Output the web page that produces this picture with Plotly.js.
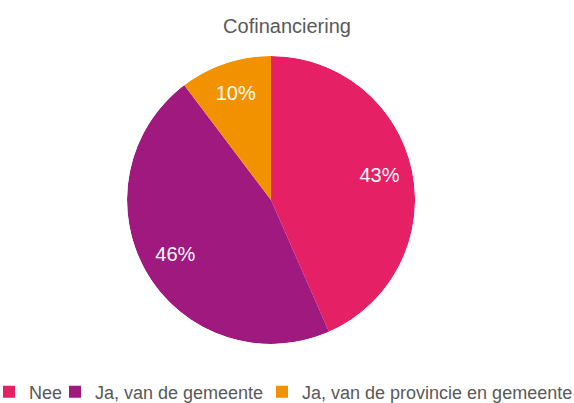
<!DOCTYPE html>
<html>
<head>
<meta charset="utf-8">
<script src="https://cdn.plot.ly/plotly-3.0.1.min.js"></script>
<style>html,body{margin:0;padding:0;background:#fff;}#chart{width:574px;height:403px;}</style>
</head>
<body>
<div id="chart"></div>
<script>
const categories = ["Nee", "Ja, van de gemeente", "Ja, van de provincie en gemeente"];
const values = [43.4, 46.3, 10.3];
const colors = ["#E62065", "#A0197E", "#F39200"];
const legendIds = ["legend", "legend2", "legend3"];

const FONT = "Arial, 'Liberation Sans', sans-serif";
const total = values.reduce((a, b) => a + b, 0);
const thetas = [], widths = [], pcts = [];
let cum = 0;
values.forEach(v => {
  thetas.push((cum + v / 2) / total * 360);
  widths.push(v / total * 360);
  pcts.push(Math.round(v / total * 100) + "%");
  cum += v;
});

const data = categories.map((c, i) => ({
  type: "barpolar",
  name: c,
  r: [1],
  theta: [thetas[i]],
  width: [widths[i]],
  base: [0],
  marker: {color: colors[i], line: {width: 0}},
  legend: legendIds[i],
  hoverinfo: "name"
}));

data.push({
  type: "scatterpolar",
  mode: "text",
  r: values.map(() => 0.77),
  theta: thetas,
  text: pcts,
  textposition: "middle center",
  textfont: {family: FONT, size: 20, color: "#ffffff"},
  showlegend: false,
  hoverinfo: "skip"
});

const legendFont = {family: FONT, size: 18, color: "#595959"};
const textStarts = [29, 95, 302];
const legendBase = {orientation: "h", xanchor: "left", y: -0.1667, yanchor: "middle", font: legendFont, bgcolor: "rgba(0,0,0,0)", borderwidth: 0};

const layout = {
  width: 574, height: 403,
  margin: {l: 0, r: 0, t: 56, b: 59, autoexpand: false},
  paper_bgcolor: "#ffffff",
  title: {text: "Cofinanciering", font: {family: FONT, size: 20, color: "#595959"}, x: 0.5, xanchor: "center", y: 0.935, yanchor: "middle"},
  showlegend: true,
  polar: {
    domain: {x: [0, 0.9443], y: [0, 1]},
    bgcolor: "rgba(0,0,0,0)",
    hole: 0,
    radialaxis: {visible: false, range: [0, 1], showgrid: false},
    angularaxis: {visible: false, rotation: 90, direction: "clockwise", showgrid: false}
  },
  legend: Object.assign({}, legendBase, {x: (textStarts[0] - 40) / 574}),
  legend2: Object.assign({}, legendBase, {x: (textStarts[1] - 40) / 574}),
  legend3: Object.assign({}, legendBase, {x: (textStarts[2] - 40) / 574})
};

Plotly.newPlot("chart", data, layout, {displayModeBar: false, staticPlot: true});
</script>
</body>
</html>
